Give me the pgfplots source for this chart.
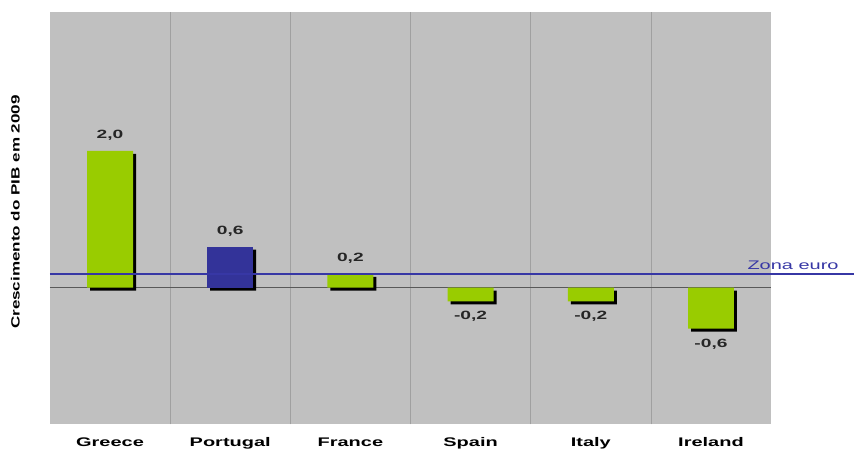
\documentclass[border=0pt]{standalone}
\usepackage{pgfplots}
\pgfplotsset{compat=1.18}
\usepackage{fontspec}
\setmainfont{Liberation Sans}
\usepackage{graphicx}
\definecolor{bgray}{RGB}{192,192,192}
\definecolor{bgreen}{RGB}{153,204,0}
\definecolor{bblue}{RGB}{51,51,153}
\definecolor{eline}{RGB}{55,55,165}
\definecolor{gline}{RGB}{160,160,160}
\newcommand{\wtxt}[1]{\scalebox{1.6}[1]{#1}}
\begin{document}
\begin{tikzpicture}
\begin{axis}[
  scale only axis, width=722pt, height=413pt,
  xmin=-0.5, xmax=5.5, ymin=-2, ymax=4.03,
  clip=false,
  axis background/.style={fill=bgray},
  axis line style={draw=none},
  major tick style={draw=none},
  ytick=\empty,
  xtick={0,1,2,3,4,5},
  xticklabels={\wtxt{Greece},\wtxt{Portugal},\wtxt{France},\wtxt{Spain},\wtxt{Italy},\wtxt{Ireland}},
  xticklabel style={font=\fontsize{12.5}{15}\selectfont\bfseries, anchor=base, yshift=-22pt},
  extra x ticks={0.5,1.5,2.5,3.5,4.5},
  extra x tick labels={},
  extra x tick style={grid=major, major grid style={gline, line width=0.6pt}, tick style={draw=none}},
  extra y ticks={0},
  extra y tick labels={},
  extra y tick style={grid=major, major grid style={black!65, line width=0.8pt}, tick style={draw=none}},
  every axis y label/.style={at={(axis description cs:-0.048,0.515)}, rotate=90, anchor=center},
  ylabel={\scalebox{1.42}[1]{Crescimento do PIB em 2009}},
  ylabel style={font=\fontsize{12}{14}\selectfont\bfseries},
]
% shadows
\addplot[ybar, bar width=46pt, bar shift=0pt, fill=black, draw=none, xshift=3pt, yshift=-3pt]
  coordinates {(0,2.0) (1,0.6) (2,0.2) (3,-0.2) (4,-0.2) (5,-0.6)};
% bars
\addplot[ybar, bar width=46pt, bar shift=0pt, fill=bgreen, draw=none,
  nodes near coords={\wtxt{\pgfmathprintnumber[fixed,fixed zerofill,precision=1,use comma,assume math mode=true]{\pgfplotspointmeta}}},
  every node near coord/.append style={font=\fontsize{12}{14}\selectfont\bfseries, inner ysep=10pt, text=black!85}]
  coordinates {(0,2.0) (2,0.2) (3,-0.2) (4,-0.2) (5,-0.6)};
\addplot[ybar, bar width=46pt, bar shift=0pt, fill=bblue, draw=none,
  nodes near coords={\wtxt{\pgfmathprintnumber[fixed,fixed zerofill,precision=1,use comma,assume math mode=true]{\pgfplotspointmeta}}},
  every node near coord/.append style={font=\fontsize{12}{14}\selectfont\bfseries, inner ysep=10pt, text=black!85}]
  coordinates {(1,0.6)};
% euro zone line
\addplot[eline, line width=2pt] coordinates {(-0.5,0.2) (6.19,0.2)};
\node[anchor=base, text=eline, font=\fontsize{12.5}{15}\selectfont] at (axis cs:5.683,0.26) {\wtxt{Zona euro}};
\end{axis}
\path ([xshift=-50pt,yshift=-34pt]current axis.south west) rectangle ([xshift=83pt,yshift=12pt]current axis.north east);
\end{tikzpicture}
\end{document}
